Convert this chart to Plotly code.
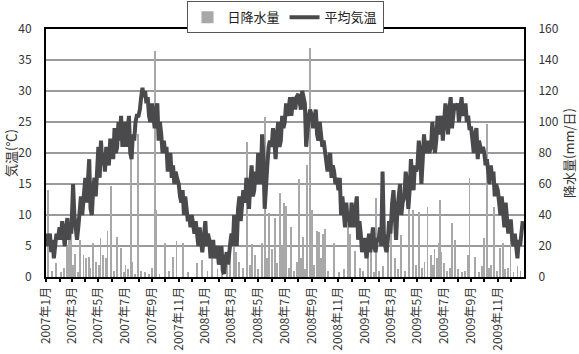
import plotly.graph_objects as go
import pandas as pd

# ---- data ----
months = pd.date_range("2007-01-01", "2009-12-01", freq="MS")
sample_days = [1, 4, 7, 10, 13, 16, 19, 22, 25, 28]

temp_by_month = [
    # 2007
    [7, 5, 6, 7, 4, 6, 3, 5, 7, 6],
    [8, 6, 9, 7, 5, 8, 9.5, 6, 8, 7],
    [9, 15, 10, 7, 6, 8, 11, 13, 10, 12],
    [16, 12, 17, 19, 11, 10, 14, 16, 13, 17],
    [21, 16, 22, 18, 20, 17, 21, 19, 18, 22],
    [22, 19, 24, 20, 21, 25, 22, 26, 21, 24],
    [25, 21, 24, 26, 20, 19, 23, 22, 25, 26],
    [26, 27, 29, 30.5, 29, 30, 28, 29, 26, 25],
    [28, 25, 24, 27, 28, 22, 25, 23, 20, 22],
    [20, 21, 17, 19, 20, 16, 18, 15, 17, 16],
    [15, 13, 12, 14, 10, 13, 11, 9, 10, 8],
    [10, 8, 7, 9, 6, 5, 8, 6, 4, 6],
    # 2008
    [9, 5, 7, 6, 3, 5, 6, 3, 4, 5],
    [2, 4, 5, 1, 0.5, 3, 4, 2, 5, 6],
    [7, 5, 10, 8, 5, 11, 13, 9, 12, 14],
    [12, 16, 14, 11, 15, 18, 13, 14, 17, 15],
    [20, 16, 15, 23, 19, 11, 16, 18, 21, 22],
    [21, 24, 22, 19, 23, 25, 21, 22, 26, 24],
    [25, 28, 26, 27, 29, 26, 28, 29, 27, 29],
    [29.5, 28, 27, 30, 29, 28, 21, 24, 26, 27],
    [26, 24, 26, 27, 23, 22, 25, 23, 21, 22],
    [20, 19, 17, 19, 20, 16, 18, 17, 15, 16],
    [14, 16, 10, 13, 11, 8, 12, 9, 10, 8],
    [12, 9, 8, 11, 13, 6, 9, 7, 4, 6],
    # 2009
    [6, 3, 5, 7, 4, 6, 8, 5, 4, 6],
    [6, 8, 5, 17, 7, 5, 4, 6, 9, 7],
    [9, 12, 14, 8, 6, 11, 13, 15, 10, 12],
    [13, 17, 15, 11, 14, 19, 16, 14, 18, 17],
    [18, 22, 20, 15, 19, 23, 20, 21, 22, 20],
    [21, 25, 23, 20, 22, 26, 23, 24, 26, 22],
    [25, 28, 26, 23, 27, 29, 24, 26, 28, 27],
    [28, 25, 27, 29, 26, 27, 28, 25, 26, 24],
    [24, 22, 20, 23, 24, 19, 22, 21, 20, 21],
    [20, 18, 19, 17, 15, 18, 16, 17, 13, 15],
    [14, 12, 10, 13, 11, 8, 12, 9, 7, 9],
    [9, 6, 5, 7, 4, 3, 6, 5, 7, 9],
]

rain_dates = [
    "2007-01-05", "2007-01-14", "2007-01-23", "2007-02-04", "2007-02-11", "2007-02-18", "2007-02-22",
    "2007-02-27", "2007-03-03", "2007-03-08", "2007-03-15", "2007-03-19", "2007-03-28", "2007-04-02",
    "2007-04-09", "2007-04-13", "2007-04-18", "2007-04-25", "2007-05-02", "2007-05-06", "2007-05-11",
    "2007-05-18", "2007-05-22", "2007-05-29", "2007-06-05", "2007-06-12", "2007-06-21", "2007-06-28",
    "2007-07-02", "2007-07-07", "2007-07-14", "2007-07-18", "2007-07-23", "2007-07-30", "2007-08-06",
    "2007-08-15", "2007-08-24", "2007-08-31", "2007-09-07", "2007-09-11", "2007-09-18", "2007-09-30",
    "2007-10-09", "2007-10-18", "2007-10-27", "2007-11-10", "2007-11-23", "2007-12-12", "2007-12-25",
    "2008-01-06", "2008-01-17", "2008-01-29", "2008-02-09", "2008-02-20", "2008-02-27", "2008-03-07",
    "2008-03-12", "2008-03-19", "2008-03-28", "2008-04-06", "2008-04-13", "2008-04-17", "2008-04-24",
    "2008-05-01", "2008-05-10", "2008-05-17", "2008-05-22", "2008-05-26", "2008-06-02", "2008-06-09",
    "2008-06-14", "2008-06-21", "2008-06-25", "2008-06-29", "2008-07-04", "2008-07-11", "2008-07-16",
    "2008-07-22", "2008-07-29", "2008-08-03", "2008-08-07", "2008-08-12", "2008-08-16", "2008-08-21",
    "2008-08-28", "2008-09-01", "2008-09-06", "2008-09-13", "2008-09-17", "2008-09-22", "2008-09-27",
    "2008-10-01", "2008-10-08", "2008-10-22", "2008-11-02", "2008-11-14", "2008-11-23", "2008-11-27",
    "2008-12-09", "2008-12-20", "2008-12-27",
    "2009-01-07", "2009-01-14", "2009-01-21", "2009-01-25", "2009-02-01", "2009-02-11", "2009-02-22",
    "2009-03-01", "2009-03-10", "2009-03-17", "2009-03-24", "2009-04-02", "2009-04-11", "2009-04-20",
    "2009-04-27", "2009-05-04", "2009-05-11", "2009-05-17", "2009-05-24", "2009-05-31", "2009-06-05",
    "2009-06-09", "2009-06-14", "2009-06-18", "2009-06-21", "2009-06-25", "2009-06-30", "2009-07-07",
    "2009-07-14", "2009-07-20", "2009-07-25", "2009-08-01", "2009-08-10", "2009-08-17", "2009-08-24",
    "2009-08-28", "2009-09-09", "2009-09-18", "2009-09-25", "2009-10-01", "2009-10-08", "2009-10-11",
    "2009-10-17", "2009-10-24", "2009-10-31", "2009-11-07", "2009-11-12", "2009-11-18", "2009-11-25",
    "2009-11-30", "2009-12-07", "2009-12-16", "2009-12-23",
]
rain_mm = [
    56, 4, 9, 3, 6, 20, 25,
    28, 8, 15, 3, 24, 14, 12,
    13, 6, 22, 10, 8, 25, 14,
    12, 30, 59, 4, 26, 19, 3,
    8, 5, 81, 10, 2, 92, 4,
    3, 2, 6, 146, 43, 2, 22,
    4, 13, 23, 22, 3, 9, 11,
    4, 12, 5, 3, 8, 21, 35,
    16, 10, 6, 87, 8, 21, 14,
    5, 22, 103, 12, 41, 18, 38,
    9, 54, 20, 48, 46, 6, 32,
    4, 10, 63, 12, 26, 5, 72,
    148, 43, 8, 30, 29, 12, 28,
    31, 4, 22, 3, 5, 38, 28,
    17, 6, 4,
    15, 21, 3, 51, 4, 7, 19,
    48, 12, 5, 27, 4, 44, 43,
    8, 42, 6, 10, 45, 14, 8,
    18, 12, 22, 50, 16, 9, 4,
    6, 35, 24, 5, 3, 4, 14,
    64, 13, 3, 7, 25, 99, 6,
    8, 45, 4, 19, 22, 5, 6,
    24, 3, 7, 4,
]

temp_title = "気温(℃)"
rain_title = "降水量(mm/日)"

temp_dates = [m.replace(day=d) for m in months for d in sample_days]
temp_vals = [v for row in temp_by_month for v in row]

FONT = "Noto Sans CJK JP"

fig = go.Figure()
fig.add_trace(go.Bar(
    x=rain_dates, y=rain_mm, name="日降水量", yaxis="y",
    marker=dict(color="#a8a8a8", line=dict(width=0)),
    width=2.0 * 86400000,
))
fig.add_trace(go.Scatter(
    x=temp_dates, y=temp_vals, name="平均気温", yaxis="y2", mode="lines",
    line=dict(color="#4a4a4c", width=4),
))

fig.update_layout(
    width=579, height=354,
    margin=dict(l=46, r=55, t=29, b=77, autoexpand=False),
    paper_bgcolor="white", plot_bgcolor="white",
    font=dict(family=FONT, size=12, color="#333333"),
    showlegend=True,
    legend=dict(orientation="h", x=0.5, xanchor="center", y=1.112, yanchor="top",
                bordercolor="#555555", borderwidth=1, font=dict(size=13, color="#222222"),
                itemwidth=30, traceorder="normal", tracegroupgap=0),
    bargap=0,
    xaxis=dict(
        type="date", range=["2007-01-01", "2009-12-31"], automargin=False,
        tickformat="%Y年%-m月", dtick="M2", tick0="2007-01-01",
        tickangle=-90, ticks="outside", ticklen=3, tickcolor="black", tickwidth=2,
        minor=dict(dtick="M1", ticks="outside", ticklen=3, tickcolor="black", tickwidth=2),
        showgrid=False, showline=True, linecolor="black", linewidth=2, mirror=True,
        tickfont=dict(size=12, color="#333333"),
    ),
    yaxis=dict(
        side="right", range=[0, 160], dtick=20, automargin=False,
        showgrid=True, gridcolor="#9a9a9a", gridwidth=1.5,
        showline=True, linecolor="black", linewidth=2,
        ticks="", ticklabelstandoff=10, zeroline=False,
        tickfont=dict(size=12, color="#333333"),
    ),
    yaxis2=dict(
        side="left", overlaying="y", range=[0, 40], dtick=5, automargin=False,
        showgrid=False, showline=True, linecolor="black", linewidth=2,
        ticks="", ticklabelstandoff=10, zeroline=False,
        tickfont=dict(size=12, color="#333333"),
    ),
    annotations=[
        dict(text=temp_title, textangle=-90, xref="paper", yref="paper",
             x=-46 / 478 + 10 / 478, y=0.5, xanchor="center", yanchor="middle",
             showarrow=False, font=dict(size=13, color="#333333")),
        dict(text=rain_title, textangle=-90, xref="paper", yref="paper",
             x=1 + 44 / 478, y=0.5, xanchor="center", yanchor="middle",
             showarrow=False, font=dict(size=13, color="#333333")),
    ],
)

fig.write_html("out.html")
